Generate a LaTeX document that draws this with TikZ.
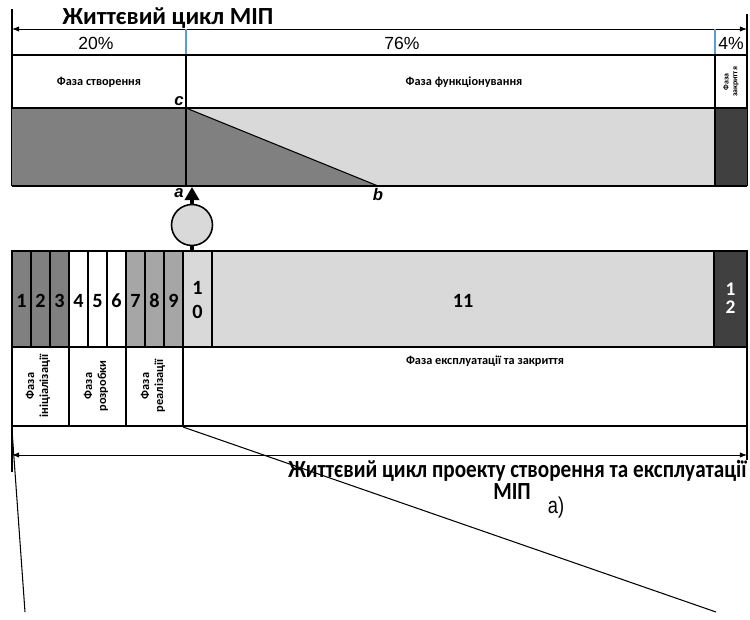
\documentclass[tikz,border=0pt]{standalone}
\usepackage{fontspec}
\setmainfont{Carlito}
\newfontfamily\arialfont{Liberation Sans}
\newfontfamily\narrowarial[FakeStretch=0.8]{Liberation Sans}
\newfontfamily\narrowcarlito[FakeStretch=0.86]{Carlito}
\usepackage{tikz}
\usetikzlibrary{arrows.meta}

\definecolor{cdark}{HTML}{808080}
\definecolor{cmid}{HTML}{A6A6A6}
\definecolor{clight}{HTML}{D9D9D9}
\definecolor{cend}{HTML}{404040}
\definecolor{cblue}{HTML}{5B9BD5}

\tikzset{
  title/.style={font=\bfseries\fontsize{14}{16}\selectfont,inner sep=0pt},
  pct/.style={font=\arialfont\fontsize{10}{12}\selectfont,inner sep=0pt},
  phase/.style={font=\bfseries\fontsize{7}{8}\selectfont,align=center,inner sep=0pt},
  num/.style={font=\bfseries\fontsize{11.5}{13.5}\selectfont,align=center,inner sep=0pt},
  ptlbl/.style={font=\arialfont\bfseries\itshape\fontsize{9.5}{11}\selectfont,inner sep=1pt},
  dim/.style={{Latex[length=4pt,width=3pt]}-{Latex[length=4pt,width=3pt]},line width=0.5pt}
}

\begin{document}
\begin{tikzpicture}[x=0.02cm,y=-0.02cm,line width=0.6pt]
\useasboundingbox (0,0) rectangle (750,619);

% life cycle of the MIP
\node[title] (toptitle) at (168,18) {Життєвий цикл МІП};

\coordinate (tl) at (12,29);
\coordinate (tr) at (747,29);
\draw[dim] (tl) -- (tr);

\draw (12,9) -- (12,186);
\draw (747,14) -- (747,186);

\draw[cblue] (186,29) -- (186,55);
\draw[cblue] (715,29) -- (715,55);

\node[pct] (p20) at (96,43) {20\%};
\node[pct] (p76) at (402,43) {76\%};
\node[pct] (p4) at (731,43) {4\%};

\draw (12,55) -- (747,55);

% phases
\node[phase] (create) at (99,82) {Фаза створення};
\node[phase] (operate) at (464,82) {Фаза функціонування};
\node[phase,rotate=90,font=\bfseries\fontsize{4.5}{5}\selectfont] (close) at (731,82) {Фаза\\закриття};

% bar with the triangle
\fill[cdark] (12,108) rectangle (186,186);
\fill[clight] (186,108) rectangle (715,186);
\fill[cend] (715,108) rectangle (747,186);

\coordinate (c) at (186,108);
\coordinate (a) at (186,186);
\coordinate (b) at (378,186);
\filldraw[fill=cdark] (c) -- (a) -- (b) -- cycle;

\draw (12,108) -- (747,108);
\draw (12,186) -- (747,186);
\draw (186,55) -- (186,186);
\draw (715,55) -- (715,186);

\node[ptlbl,anchor=south east] (lc) at (c) {c};
\node[ptlbl,anchor=north east] (la) at (a) {a};
\node[ptlbl,anchor=north] (lb) at (b) {b};

% transition
\node[circle,draw,fill=clight,line width=0.9pt,minimum size=0.82cm,inner sep=0pt] (circ) at (192,225) {};
\coordinate (tip) at (192,187);
\coordinate (foot) at (192,251);
\draw[-{Triangle[length=7.4pt,width=8pt]},line width=2.3pt] (circ) -- (tip);
\draw[line width=2.6pt] (circ) -- (foot);

% stages 1 to 12
\foreach \i/\col in {1/cdark,2/cdark,3/cdark,4/white,5/white,6/white,7/cmid,8/cmid,9/cmid}
{
  \filldraw[fill=\col] ({12+19*(\i-1)},251) rectangle ++(19,96);
  \node[num] (s\i) at ({2.5+19*\i},301) {\i};
}
\filldraw[fill=clight] (183,251) rectangle (212,347);
\node[num] (s10) at (197.5,300) {1\\0};
\filldraw[fill=clight] (212,251) rectangle (714,347);
\node[num] (s11) at (463,301) {11};
\filldraw[fill=cend] (714,251) rectangle (747,347);
\node[num,text=white,font=\bfseries\fontsize{11}{10}\selectfont] (s12) at (730.5,298) {1\\2};

% phases of the project
\draw (12,347) -- (12,472);
\draw (747,347) -- (747,460);
\draw (69,347) -- (69,426);
\draw (126,347) -- (126,426);
\draw (183,347) -- (183,426);
\draw (12,426) -- (747,426);

\node[phase,rotate=90] (init) at (38,386) {Фаза\\ініціалізації};
\node[phase,rotate=90] (dev) at (96,386) {Фаза\\розробки};
\node[phase,rotate=90] (impl) at (153,386) {Фаза\\реалізації};
\node[phase,anchor=north] (expl) at (485,355) {Фаза експлуатації та закриття};

% life cycle of the project
\coordinate (bl) at (12,455);
\coordinate (br) at (747,455);
\draw[dim] (bl) -- (br);

\node[title,font=\narrowcarlito\bfseries\fontsize{14}{16}\selectfont,anchor=north east] (bottitle) at (747,460) {Життєвий цикл проекту створення та експлуатації};
\node[title,font=\narrowcarlito\bfseries\fontsize{14}{16}\selectfont] (bottitle2) at (512,492) {МІП};
\node[font=\narrowarial\fontsize{13}{15}\selectfont,inner sep=0pt] (sub) at (556,508) {а)};

% leader lines
\draw (183,427) -- (716,612);
\draw (12,430) -- (25,612);

\end{tikzpicture}
\end{document}
